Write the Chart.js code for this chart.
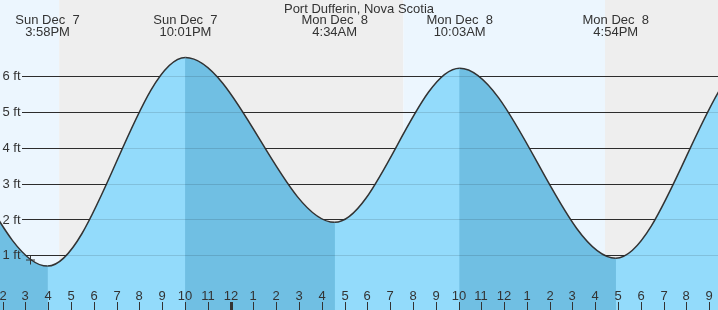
<!DOCTYPE html>
<html>
<head>
<meta charset="utf-8">
<script src="https://cdn.jsdelivr.net/npm/chart.js@4"></script>
<style>
html, body { margin: 0; padding: 0; background: #fff; }
canvas { display: block; }
</style>
</head>
<body>
<canvas id="tideChart" width="718" height="310"></canvas>
<script>
// tide chart for Port Dufferin, Nova Scotia
// hours are counted from Sun Dec 7 00:00

const STATION = 'Port Dufferin, Nova Scotia';

// high / low tides (the two at each end lie off the chart)
const tideHours = [3.6, 9.8, 15.967, 22.017, 28.567, 34.05, 40.9, 47.1, 53.3];
const tideFeet  = [1.6, 5.3, 0.70, 6.52, 1.92, 6.22, 0.92, 6.6, 1.7];
const tideDays  = ['', '', 'Sun Dec  7', 'Sun Dec  7', 'Mon Dec  8', 'Mon Dec  8', 'Mon Dec  8', '', ''];
const tideTimes = ['', '', '3:58PM', '10:01PM', '4:34AM', '10:03AM', '4:54PM', '', ''];

// "now" marker
const nowHours = [15.22];
const nowFeet  = [0.87];

// sunset / sunrise / sunset (chart starts in daylight)
const sunHours = [16.48, 31.58, 40.43];

// y axis
const ftValues = [1, 2, 3, 4, 5, 6];
const ftLabels = ['1 ft', '2 ft', '3 ft', '4 ft', '5 ft', '6 ft'];

// x axis: one tick per hour from 2PM Sun to 9PM Mon
const FIRST_TICK_HOUR = 14;
const hourLabels = ['2', '3', '4', '5', '6', '7', '8', '9', '10', '11', '12',
  '1', '2', '3', '4', '5', '6', '7', '8', '9', '10', '11', '12',
  '1', '2', '3', '4', '5', '6', '7', '8', '9'];
const MIDNIGHT_HOUR = 24;

const DAY_BG = '#ecf6fe';
const NIGHT_BG = '#eeeeee';
const RISE_FILL = '#93dbfb';
const FALL_FILL = '#70bfe3';
const INK = '#333333';
const FONT = '13px "Liberation Sans", Arial, sans-serif';

const tidePoints = tideHours.map((h, i) => ({ x: h, y: tideFeet[i] }));

const tideDecor = {
  id: 'tideDecor',
  beforeDatasetsDraw(chart) {
    const { ctx, chartArea: a, scales: { x, y } } = chart;
    ctx.save();
    // day / night bands
    const edges = [a.left, ...sunHours.map(h => x.getPixelForValue(h)), a.right];
    for (let i = 0; i < edges.length - 1; i++) {
      ctx.fillStyle = i % 2 === 0 ? DAY_BG : NIGHT_BG;
      ctx.fillRect(edges[i], a.top, edges[i + 1] - edges[i], a.bottom - a.top);
    }
    // foot lines
    ctx.strokeStyle = INK;
    ctx.lineWidth = 1;
    ftValues.forEach(v => {
      const py = Math.round(y.getPixelForValue(v)) + 0.5;
      ctx.beginPath();
      ctx.moveTo(22, py);
      ctx.lineTo(a.right, py);
      ctx.stroke();
    });
    ctx.restore();
  },
  afterDatasetsDraw(chart) {
    const { ctx, chartArea: a, scales: { x, y } } = chart;
    ctx.save();
    // foot lines showing faintly through the water
    ctx.strokeStyle = 'rgba(0,0,0,0.12)';
    ctx.lineWidth = 1;
    ftValues.forEach(v => {
      const py = Math.round(y.getPixelForValue(v)) + 0.5;
      ctx.beginPath();
      ctx.moveTo(22, py);
      ctx.lineTo(a.right, py);
      ctx.stroke();
    });

    ctx.font = FONT;
    ctx.fillStyle = INK;

    // foot labels
    ctx.textAlign = 'left';
    ctx.textBaseline = 'middle';
    ftValues.forEach((v, i) => {
      ctx.fillText(ftLabels[i], 2.5, y.getPixelForValue(v) + 0.5);
    });

    // hour ticks
    ctx.textAlign = 'center';
    ctx.textBaseline = 'alphabetic';
    hourLabels.forEach((label, i) => {
      const h = FIRST_TICK_HOUR + i;
      const px = Math.round(x.getPixelForValue(h));
      ctx.fillText(label, px, 300);
      if (h === MIDNIGHT_HOUR) {
        ctx.fillRect(px - 1, 302, 3, a.bottom - 302);
      } else {
        ctx.fillRect(px, 302, 1, a.bottom - 302);
      }
    });

    // station name and high / low labels
    ctx.fillText(STATION, chart.width / 2, 12.5);
    tideHours.forEach((h, i) => {
      if (!tideDays[i]) return;
      const px = x.getPixelForValue(h);
      ctx.fillText(tideDays[i], px, 24);
      ctx.fillText(tideTimes[i], px, 36);
    });
    ctx.restore();
  }
};

const ctx = document.getElementById('tideChart').getContext('2d');
const tideChart = new Chart(ctx, {
  type: 'line',
  data: {
    datasets: [
      {
        // now marker (drawn on top)
        data: nowHours.map((h, i) => ({ x: h, y: nowFeet[i] })),
        showLine: false,
        pointStyle: 'cross',
        pointRadius: 4.5,
        pointBorderWidth: 1,
        pointBorderColor: INK,
        borderColor: INK
      },
      {
        data: tidePoints,
        borderColor: INK,
        borderWidth: 1.5,
        pointRadius: 0,
        cubicInterpolationMode: 'monotone',
        fill: 'start',
        backgroundColor: RISE_FILL,
        segment: {
          // falling tide is darker
          backgroundColor: c => c.p1.parsed.y < c.p0.parsed.y ? FALL_FILL : RISE_FILL
        }
      },
      {
        // plain fill underneath so the segment seams don't show
        data: tidePoints,
        borderWidth: 0,
        borderColor: 'rgba(0,0,0,0)',
        pointRadius: 0,
        cubicInterpolationMode: 'monotone',
        fill: 'start',
        backgroundColor: FALL_FILL
      }
    ]
  },
  options: {
    responsive: false,
    animation: false,
    layout: { padding: 0, autoPadding: false },
    plugins: { legend: { display: false }, tooltip: { enabled: false } },
    scales: {
      x: { type: 'linear', min: 13.8815, max: 45.386, display: false },
      y: { min: -0.5244, max: 8.1227, display: false }
    }
  },
  plugins: [tideDecor]
});
</script>
</body>
</html>
